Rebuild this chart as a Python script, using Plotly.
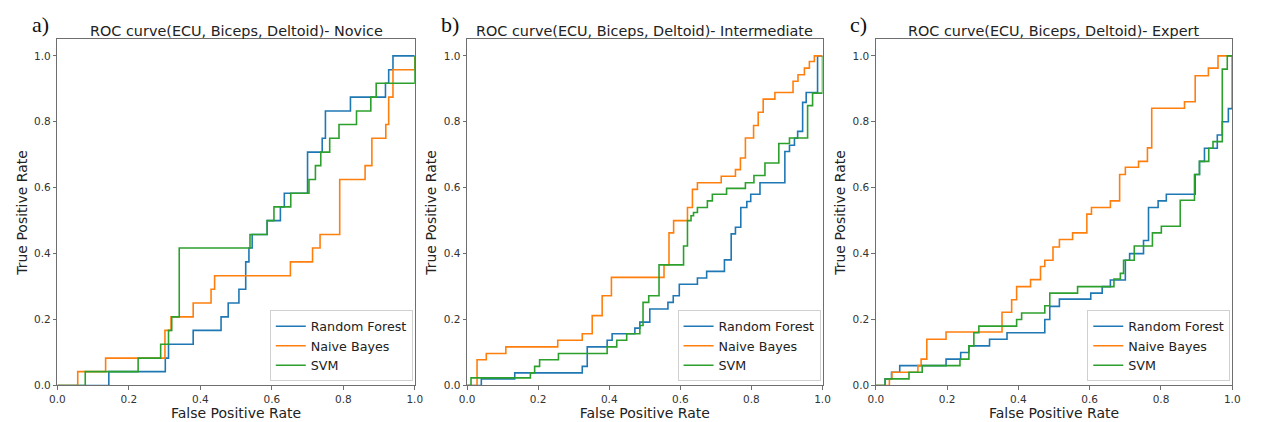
import plotly.graph_objects as go

W, H = 1261, 422

series_names = ["Random Forest", "Naive Bayes", "SVM"]
colors = ["#1f77b4", "#ff7f0e", "#2ca02c"]
panel_titles = ["ROC curve(ECU, Biceps, Deltoid)- Novice",
                "ROC curve(ECU, Biceps, Deltoid)- Intermediate",
                "ROC curve(ECU, Biceps, Deltoid)- Expert"]
panel_letters = ["a)", "b)", "c)"]
tick_vals = [0.0, 0.2, 0.4, 0.6, 0.8, 1.0]
tick_text = ["0.0", "0.2", "0.4", "0.6", "0.8", "1.0"]

# ---- Novice ----
nov_rf_fpr = [0, 0.144, 0.302, 0.311, 0.380, 0.458, 0.478, 0.508, 0.527, 0.536, 0.545, 0.587, 0.624, 0.635, 0.700, 0.741, 0.750, 0.820, 0.918, 0.927, 0.939, 1.0]
nov_rf_tpr = [0, 0.042, 0.083, 0.125, 0.167, 0.208, 0.250, 0.292, 0.375, 0.417, 0.458, 0.500, 0.542, 0.583, 0.708, 0.750, 0.833, 0.875, 0.917, 0.958, 1.0, 1.0]
nov_nb_fpr = [0, 0.057, 0.135, 0.301, 0.318, 0.380, 0.430, 0.440, 0.652, 0.714, 0.735, 0.790, 0.861, 0.880, 0.919, 0.927, 0.939, 1.0, 1.0]
nov_nb_tpr = [0, 0.042, 0.083, 0.167, 0.208, 0.250, 0.292, 0.333, 0.375, 0.417, 0.458, 0.625, 0.667, 0.750, 0.792, 0.875, 0.958, 0.958, 1.0]
nov_svm_fpr = [0, 0.078, 0.226, 0.289, 0.311, 0.320, 0.341, 0.539, 0.587, 0.606, 0.653, 0.704, 0.722, 0.737, 0.762, 0.788, 0.837, 0.877, 0.892, 1.0, 1.0]
nov_svm_tpr = [0, 0.042, 0.083, 0.125, 0.167, 0.208, 0.417, 0.458, 0.500, 0.542, 0.583, 0.625, 0.667, 0.708, 0.750, 0.792, 0.833, 0.875, 0.917, 0.917, 1.0]

# ---- Intermediate ----
int_rf_fpr = [0, 0.04, 0.134, 0.324, 0.338, 0.394, 0.408, 0.472, 0.486, 0.514, 0.565, 0.58, 0.597, 0.648, 0.674, 0.724, 0.743, 0.755, 0.77, 0.787, 0.798, 0.824, 0.894, 0.907, 0.921, 0.93, 0.944, 0.954, 0.986, 1.0]
int_rf_tpr = [0, 0.02, 0.038, 0.058, 0.117, 0.137, 0.157, 0.174, 0.192, 0.232, 0.252, 0.272, 0.307, 0.326, 0.346, 0.381, 0.46, 0.48, 0.54, 0.558, 0.58, 0.615, 0.71, 0.729, 0.75, 0.771, 0.859, 0.889, 1.0, 1.0]
int_nb_fpr = [0, 0.028, 0.054, 0.109, 0.255, 0.324, 0.352, 0.38, 0.406, 0.554, 0.568, 0.581, 0.62, 0.634, 0.648, 0.715, 0.755, 0.769, 0.783, 0.806, 0.819, 0.833, 0.866, 0.917, 0.931, 0.949, 0.963, 0.977, 1.0]
int_nb_tpr = [0, 0.078, 0.097, 0.117, 0.137, 0.157, 0.212, 0.272, 0.328, 0.366, 0.463, 0.5, 0.54, 0.595, 0.615, 0.635, 0.655, 0.69, 0.751, 0.789, 0.829, 0.869, 0.889, 0.923, 0.943, 0.963, 0.983, 1.0, 1.0]
int_svm_fpr = [0, 0.011, 0.178, 0.19, 0.204, 0.257, 0.394, 0.421, 0.449, 0.486, 0.495, 0.511, 0.54, 0.609, 0.62, 0.63, 0.637, 0.648, 0.676, 0.69, 0.73, 0.783, 0.807, 0.838, 0.877, 0.907, 0.958, 0.972, 1.0, 1.0]
int_svm_tpr = [0, 0.023, 0.038, 0.058, 0.078, 0.097, 0.117, 0.137, 0.157, 0.182, 0.252, 0.272, 0.366, 0.423, 0.5, 0.515, 0.525, 0.54, 0.56, 0.58, 0.598, 0.615, 0.637, 0.675, 0.734, 0.751, 0.849, 0.887, 0.887, 1.0]

# ---- Expert ----
exp_rf_fpr = [0, 0.026, 0.044, 0.067, 0.197, 0.238, 0.261, 0.319, 0.368, 0.474, 0.488, 0.515, 0.603, 0.635, 0.658, 0.70, 0.712, 0.751, 0.765, 0.792, 0.815, 0.896, 0.908, 0.922, 0.958, 0.972, 0.989, 1.0]
exp_rf_tpr = [0, 0.02, 0.04, 0.06, 0.08, 0.10, 0.12, 0.14, 0.16, 0.20, 0.24, 0.262, 0.28, 0.30, 0.32, 0.38, 0.40, 0.44, 0.54, 0.56, 0.58, 0.64, 0.68, 0.72, 0.76, 0.80, 0.84, 1.0]
exp_nb_fpr = [0, 0.038, 0.045, 0.118, 0.127, 0.143, 0.197, 0.354, 0.381, 0.395, 0.434, 0.462, 0.474, 0.497, 0.515, 0.552, 0.592, 0.605, 0.658, 0.684, 0.70, 0.737, 0.762, 0.774, 0.866, 0.896, 0.933, 0.96, 1.0]
exp_nb_tpr = [0, 0.02, 0.04, 0.06, 0.08, 0.14, 0.162, 0.222, 0.26, 0.30, 0.321, 0.361, 0.38, 0.42, 0.443, 0.463, 0.52, 0.54, 0.56, 0.64, 0.662, 0.68, 0.721, 0.841, 0.861, 0.94, 0.963, 1.0, 1.0]
exp_svm_fpr = [0, 0.026, 0.093, 0.13, 0.236, 0.261, 0.275, 0.289, 0.395, 0.409, 0.474, 0.488, 0.566, 0.668, 0.686, 0.695, 0.725, 0.776, 0.801, 0.854, 0.894, 0.908, 0.934, 0.946, 0.972, 0.986, 1.0]
exp_svm_tpr = [0, 0.02, 0.04, 0.06, 0.08, 0.12, 0.16, 0.18, 0.20, 0.22, 0.242, 0.28, 0.30, 0.323, 0.34, 0.38, 0.423, 0.463, 0.483, 0.562, 0.64, 0.68, 0.72, 0.74, 0.96, 1.0, 1.0]

panels = [
    [(nov_rf_fpr, nov_rf_tpr), (nov_nb_fpr, nov_nb_tpr), (nov_svm_fpr, nov_svm_tpr)],
    [(int_rf_fpr, int_rf_tpr), (int_nb_fpr, int_nb_tpr), (int_svm_fpr, int_svm_tpr)],
    [(exp_rf_fpr, exp_rf_tpr), (exp_nb_fpr, exp_nb_tpr), (exp_svm_fpr, exp_svm_tpr)],
]

# layout geometry (pixels)
ax_left = [50, 465, 879]
ax_right = [412, 825, 1240]
ax_top, ax_bottom = 40, 391

fig = go.Figure()
axis_color = "#6e6e6e"
tick_font = dict(family="DejaVu Sans", size=10.5, color="#333333")
label_font = dict(family="DejaVu Sans", size=14, color="#222222")

for i, panel in enumerate(panels):
    xa = "x" if i == 0 else f"x{i+1}"
    ya = "y" if i == 0 else f"y{i+1}"
    lg = "legend" if i == 0 else f"legend{i+1}"
    for (fpr, tpr), name, col in zip(panel, series_names, colors):
        fig.add_trace(go.Scatter(x=fpr, y=tpr, mode="lines", name=name,
                                 line=dict(color=col, width=1.6, shape="hv"),
                                 xaxis=xa, yaxis=ya, legend=lg, showlegend=True))
    xd = [ax_left[i] / W, ax_right[i] / W]
    yd = [1 - ax_bottom / H, 1 - ax_top / H]
    xkey = "xaxis" if i == 0 else f"xaxis{i+1}"
    ykey = "yaxis" if i == 0 else f"yaxis{i+1}"
    fig.layout[xkey] = dict(domain=xd, range=[0, 1], anchor=ya,
                            tickvals=tick_vals, ticktext=tick_text,
                            ticks="outside", ticklen=3.5, tickcolor=axis_color,
                            showline=True, mirror=True, linecolor=axis_color, linewidth=1,
                            showgrid=False, zeroline=False, tickfont=tick_font,
                            title=dict(text="False Positive Rate", font=label_font, standoff=1))
    fig.layout[ykey] = dict(domain=yd, range=[0, 1.05], anchor=xa,
                            tickvals=tick_vals, ticktext=tick_text,
                            ticks="outside", ticklen=3.5, tickcolor=axis_color,
                            showline=True, mirror=True, linecolor=axis_color, linewidth=1,
                            showgrid=False, zeroline=False, tickfont=tick_font,
                            title=dict(text="True Positive Rate", font=label_font, standoff=3))
    fig.layout[lg] = dict(x=(ax_right[i] - 2) / W, y=1 - (ax_bottom - 4) / H,
                          xanchor="right", yanchor="bottom",
                          bgcolor="rgba(255,255,255,0.9)", bordercolor="#d0d0d0", borderwidth=1,
                          font=dict(family="DejaVu Sans", size=12.7, color="#222222"),
                          itemwidth=30, tracegroupgap=0)
    fig.add_annotation(text=panel_titles[i], xref="paper", yref="paper",
                       x=(ax_left[i] + ax_right[i]) / 2 / W, y=1 - 31 / H,
                       xanchor="center", yanchor="middle", showarrow=False,
                       font=dict(family="DejaVu Sans", size=14.4, color="#222222"))
    fig.add_annotation(text=panel_letters[i], xref="paper", yref="paper",
                       x=(ax_left[i] - 28) / W, y=1 - 25 / H,
                       xanchor="left", yanchor="middle", showarrow=False,
                       font=dict(family="Liberation Serif", size=22, color="#111111"))

fig.update_layout(width=W, height=H, margin=dict(l=0, r=0, t=0, b=0),
                  paper_bgcolor="white", plot_bgcolor="white")

fig.write_html("out.html")
